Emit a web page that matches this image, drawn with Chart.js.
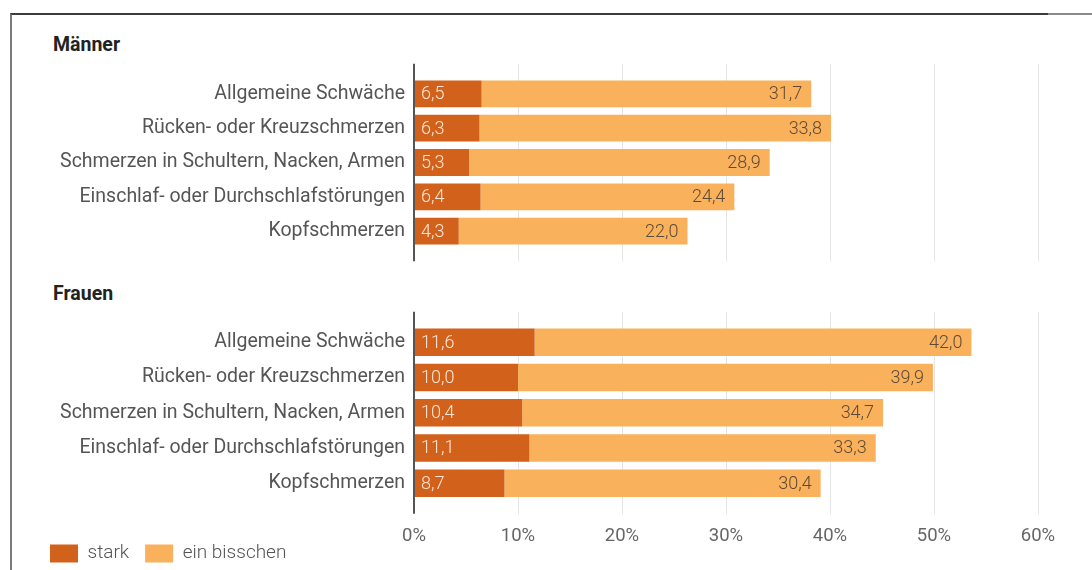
<!DOCTYPE html>
<html lang="de">
<head>
<meta charset="utf-8">
<script src="https://cdn.jsdelivr.net/npm/chart.js@4.4.1/dist/chart.umd.min.js"></script>
<style>
  html, body { margin: 0; padding: 0; background: #fff; }
  body { width: 1092px; height: 570px; position: relative; overflow: hidden; font-family: Roboto, "Noto Sans", sans-serif; }
  .rahmen { position: absolute; left: 10px; top: 13px; right: 0; bottom: 0; border-left: 2px solid #7a7a7a; border-top: 2px solid #3c3c3c; }
  .rahmen-rechts { position: absolute; left: 1048px; top: 13px; right: 0; height: 2px; background: #8a8a8a; }
  .titel { position: absolute; left: 53px; font-size: 19.5px; font-weight: 700; color: #222; }
  .panel { position: absolute; }
</style>
</head>
<body>
<div class="rahmen"></div>
<div class="rahmen-rechts"></div>
<div class="titel" style="top:33px">Männer</div>
<div class="panel" style="left:0;top:56px;width:1092px;height:213px"><canvas id="chartMaenner"></canvas></div>
<div class="titel" style="top:282px">Frauen</div>
<div class="panel" style="left:34px;top:304px;width:1058px;height:299px"><canvas id="chartFrauen"></canvas></div>
<script>
// Daten
const kategorien = [
  "Allgemeine Schwäche",
  "Rücken- oder Kreuzschmerzen",
  "Schmerzen in Schultern, Nacken, Armen",
  "Einschlaf- oder Durchschlafstörungen",
  "Kopfschmerzen"
];
const maennerStark = [6.5, 6.3, 5.3, 6.4, 4.3];
const maennerBisschen = [31.7, 33.8, 28.9, 24.4, 22.0];
const frauenStark = [11.6, 10.0, 10.4, 11.1, 8.7];
const frauenBisschen = [42.0, 39.9, 34.7, 33.3, 30.4];
const xTicks = [0, 10, 20, 30, 40, 50, 60];

const farbeStark = "#d2611b";
const farbeBisschen = "#fab15c";
const schrift = "Roboto, 'Noto Sans', sans-serif";

// Werte in die Balken schreiben
const wertePlugin = {
  id: "werte",
  afterDatasetsDraw(chart) {
    const ctx = chart.ctx;
    ctx.save();
    ctx.font = "300 18px " + schrift;
    ctx.textBaseline = "middle";
    chart.data.datasets.forEach((ds, i) => {
      const meta = chart.getDatasetMeta(i);
      meta.data.forEach((bar, j) => {
        const txt = ds.data[j].toFixed(1).replace(".", ",");
        if (i === 0) {
          ctx.fillStyle = "rgba(255,238,224,0.95)";
          ctx.textAlign = "left";
          ctx.fillText(txt, bar.base + 6, bar.y + 1);
        } else {
          ctx.fillStyle = "#5e4a36";
          ctx.textAlign = "right";
          ctx.fillText(txt, bar.x - 9, bar.y + 1);
        }
      });
    });
    ctx.restore();
  }
};

// Legende etwas näher an die Achse
const legendePlugin = {
  id: "legendeHoch",
  afterLayout(chart) {
    if (chart.legend && chart.options.plugins.legend.display) {
      chart.legend.top -= 30;
      chart.legend.bottom -= 30;
    }
  }
};

function gitterFarbe(c) {
  return c.tick && c.tick.value === 0 ? "#555" : "#e4e4e4";
}
function gitterBreite(c) {
  return c.tick && c.tick.value === 0 ? 2 : 1;
}

function baueChart(id, stark, bisschen, mitAchse, yBreite) {
  const ctx = document.getElementById(id).getContext("2d");
  return new Chart(ctx, {
    type: "bar",
    data: {
      labels: kategorien,
      datasets: [
        { label: "stark", data: stark, backgroundColor: farbeStark },
        { label: "ein bisschen", data: bisschen, backgroundColor: farbeBisschen }
      ]
    },
    options: {
      indexAxis: "y",
      responsive: true,
      maintainAspectRatio: false,
      animation: false,
      layout: { padding: { right: 54 } },
      datasets: { bar: { categoryPercentage: 1, barPercentage: 0.78 } },
      plugins: {
        legend: {
          display: mitAchse,
          position: "bottom",
          align: "start",
          labels: {
            boxWidth: 28,
            boxHeight: 18,
            padding: 16,
            color: "#555",
            font: { family: schrift, size: 19, weight: "300" }
          }
        },
        tooltip: { enabled: false }
      },
      scales: {
        x: {
          stacked: true,
          min: 0,
          max: 60,
          afterBuildTicks: (s) => { s.ticks = xTicks.map((v) => ({ value: v })); },
          border: { display: false },
          grid: { color: gitterFarbe, lineWidth: gitterBreite, tickLength: 13 },
          ticks: {
            display: mitAchse,
            padding: 11,
            color: "#666",
            font: { family: schrift, size: 18.5 },
            callback: (v) => v + "%"
          }
        },
        xOben: {
          type: "linear",
          position: "top",
          min: 0,
          max: 60,
          afterBuildTicks: (s) => { s.ticks = xTicks.map((v) => ({ value: v })); },
          border: { display: false },
          grid: { color: gitterFarbe, lineWidth: gitterBreite, tickLength: 13, drawOnChartArea: false },
          ticks: { display: false }
        },
        y: {
          stacked: true,
          border: { display: false },
          grid: { display: false, drawTicks: false },
          afterFit: (s) => { s.width = yBreite; },
          ticks: {
            padding: 9,
            color: "#555",
            font: { family: schrift, size: 19.5 }
          }
        }
      }
    },
    plugins: [wertePlugin, legendePlugin]
  });
}

baueChart("chartMaenner", maennerStark, maennerBisschen, false, 414);
baueChart("chartFrauen", frauenStark, frauenBisschen, true, 380);
</script>
</body>
</html>
